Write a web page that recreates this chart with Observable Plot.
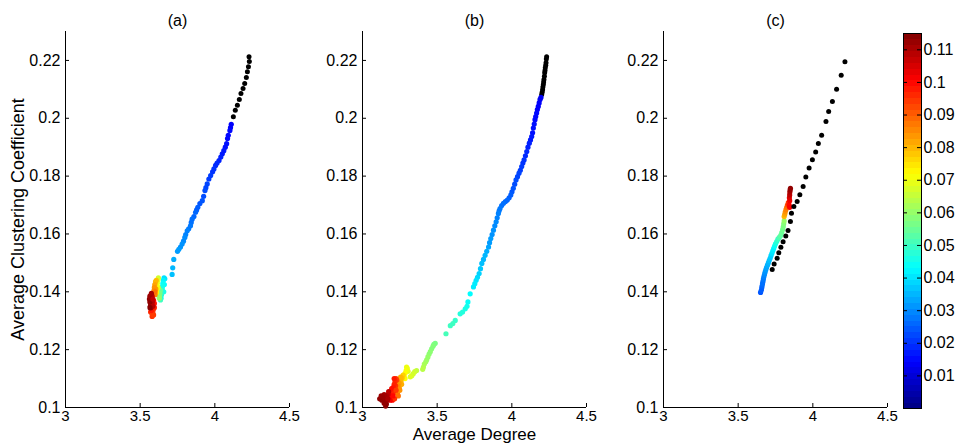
<!DOCTYPE html>
<html><head><meta charset="utf-8">
<script src="https://cdn.jsdelivr.net/npm/d3@7"></script>
<script src="https://cdn.jsdelivr.net/npm/@observablehq/plot@0.6"></script>
<style>
body{margin:0;background:#fff;}
#chart{position:relative;width:959px;height:448px;overflow:hidden;background:#fff;}
#chart svg{position:absolute;top:0;}
</style></head><body><div id="chart"></div>
<script>
// ---------- labels & ticks ----------
const panelTitles = ["(a)", "(b)", "(c)"];
const xLabel = "Average Degree";
const yLabel = "Average Clustering Coefficient";
const xTicks = [3, 3.5, 4, 4.5];
const yTicks = [0.1, 0.12, 0.14, 0.16, 0.18, 0.2, 0.22];
const cbTicks = [0.01, 0.02, 0.03, 0.04, 0.05, 0.06, 0.07, 0.08, 0.09, 0.1, 0.11];
const xDomain = [3, 4.5];
const yDomain = [0.1, 0.23];
const cbDomain = [0, 0.115];

// ---------- panel (a) ----------
const aBlackX = [4.229,4.231,4.225,4.218,4.211,4.200,4.189,4.175,4.164,4.151,4.137,4.124];
const aBlackY = [0.2213,0.2196,0.2178,0.2161,0.2141,0.2120,0.2103,0.2086,0.2065,0.2045,0.2028,0.2005];
const aX = [4.110,4.105,4.101,4.090,4.085,4.079,4.070,4.060,4.050,4.040,4.028,4.015,4.005,3.994,3.985,3.972,3.960,3.949,3.940,3.934,3.925,3.916,3.900,3.886,3.878,3.871,3.860,3.848,3.842,3.837,3.825,3.815,3.805,3.799,3.790,3.781,3.770,3.759,3.750,3.725,3.718,3.714,
  3.665,3.662,3.658,3.660,3.655,3.652,3.650,3.648,3.645,3.643,3.640,3.636,
  3.636,3.632,3.630,3.628,
  3.622,3.620,3.618,3.615,3.612,3.612,3.610,
  3.608,3.605,3.603,3.598,3.595,3.593,3.590,3.600,3.600,
  3.580,3.590,3.595,3.570,3.590,3.588,3.585,3.580,3.575,3.590,3.595,
  3.580,3.575,3.572,3.570,3.568,3.572,3.578,3.582,3.565,3.562,3.565,3.585,3.585,3.575,3.566];
const aY = [0.1979,0.1968,0.1958,0.1941,0.1930,0.1912,0.1900,0.1888,0.1877,0.1866,0.1854,0.1845,0.1837,0.1825,0.1815,0.1802,0.1790,0.1773,0.1760,0.1750,0.1730,0.1715,0.1705,0.1692,0.1683,0.1675,0.1660,0.1651,0.1640,0.1628,0.1618,0.1611,0.1598,0.1588,0.1575,0.1565,0.1555,0.1547,0.1540,0.1512,0.1483,0.1460,
  0.1445,0.1425,0.1400,0.1448,0.1440,0.1430,0.1420,0.1410,0.1400,0.1390,0.1378,0.1372,
  0.1405,0.1395,0.1385,0.1378,
  0.1448,0.1415,0.1440,0.1430,0.1420,0.1408,0.1398,
  0.1440,0.1410,0.1435,0.1425,0.1415,0.1405,0.1395,0.1390,0.1400,
  0.1315,0.1320,0.1345,0.1330,0.1350,0.1340,0.1330,0.1325,0.1335,0.1370,0.1360,
  0.1385,0.1378,0.1370,0.1360,0.1350,0.1345,0.1355,0.1365,0.1365,0.1375,0.1385,0.1375,0.1350,0.1395,0.1345];
const aC = [0.014,0.014,0.015,0.015,0.015,0.016,0.016,0.017,0.017,0.018,0.018,0.019,0.019,0.020,0.020,0.021,0.021,0.022,0.022,0.023,0.023,0.024,0.024,0.025,0.025,0.026,0.026,0.027,0.027,0.028,0.028,0.029,0.029,0.030,0.030,0.031,0.031,0.032,0.032,0.034,0.035,0.036,
  0.041,0.043,0.046,0.040,0.042,0.044,0.045,0.046,0.047,0.048,0.046,0.050,
  0.055,0.057,0.058,0.060,
  0.067,0.069,0.068,0.070,0.071,0.072,0.073,
  0.079,0.083,0.080,0.082,0.084,0.085,0.087,0.086,0.088,
  0.095,0.094,0.097,0.096,0.096,0.097,0.095,0.094,0.098,0.100,0.099,
  0.108,0.110,0.112,0.113,0.114,0.111,0.110,0.109,0.113,0.113,0.112,0.108,0.109,0.111,0.114];

// ---------- panel (b) ----------
const bBlackX = [4.233,4.231,4.229,4.227,4.224,4.222,4.220,4.218,4.215,4.213,4.211,4.208,4.206,4.203,4.200];
const bBlackY = [0.2213,0.2205,0.2192,0.2183,0.2175,0.2165,0.2157,0.2145,0.2134,0.2125,0.2117,0.2108,0.2099,0.2090,0.2082];
const bX = [4.195,4.189,4.183,4.177,4.171,4.166,4.160,4.155,4.150,4.144,4.139,4.133,4.125,4.117,4.108,4.100,4.091,4.082,4.074,4.066,4.057,4.048,4.038,4.028,4.019,4.010,4.001,3.993,3.982,3.970,3.957,3.944,3.932,3.921,3.915,3.910,3.902,3.895,3.886,3.877,3.868,3.859,3.851,3.844,3.832,3.821,3.810,3.799,3.790,3.781,3.770,3.761,3.752,3.743,3.721,3.706,3.700,3.688,3.670,3.654,3.621,3.605,3.588,3.559,
  3.487,3.478,3.472,3.463,3.454,3.446,3.438,3.430,3.424,3.414,3.408,3.403,
  3.362,3.350,3.340,3.330,3.320,
  3.305,3.295,3.300,3.292,3.285,3.285,3.278,
  3.272,3.265,3.258,3.252,3.246,3.240,3.234,3.262,3.255,3.245,3.238,3.250,3.240,
  3.230,3.222,3.225,3.218,3.212,3.206,3.200,3.195,3.190,3.200,3.215,3.185,3.208,3.195,3.212,3.205,3.225,
  3.175,3.170,3.160,3.150,3.140,3.130,3.150,3.160,3.155,3.165,3.145,3.135,3.170,3.145,3.115,3.125];
const bY = [0.2072,0.2065,0.2053,0.2041,0.2030,0.2018,0.2006,0.1995,0.1980,0.1966,0.1950,0.1937,0.1925,0.1914,0.1900,0.1885,0.1870,0.1856,0.1845,0.1833,0.1820,0.1810,0.1798,0.1787,0.1772,0.1758,0.1746,0.1735,0.1725,0.1717,0.1712,0.1706,0.1698,0.1688,0.1680,0.1671,0.1656,0.1642,0.1628,0.1613,0.1598,0.1584,0.1570,0.1555,0.1540,0.1526,0.1512,0.1498,0.1480,0.1463,0.1450,0.1440,0.1428,0.1417,0.1393,0.1365,0.1350,0.1341,0.1330,0.1324,0.1301,0.1290,0.1283,0.1255,
  0.1222,0.1218,0.1212,0.1203,0.1193,0.1185,0.1175,0.1165,0.1158,0.1150,0.1140,0.1132,
  0.1128,0.1124,0.1117,0.1110,0.1106,
  0.1125,0.1140,0.1135,0.1128,0.1118,0.1100,0.1108,
  0.1112,0.1102,0.1090,0.1078,0.1068,0.1058,0.1048,0.1080,0.1105,0.1085,0.1075,0.1060,0.1040,
  0.1095,0.1075,0.1100,0.1090,0.1080,0.1070,0.1058,0.1045,0.1035,0.1025,0.1030,0.1025,0.1055,0.1065,0.1100,0.1040,0.1060,
  0.1055,0.1045,0.1040,0.1035,0.1030,0.1025,0.1020,0.1012,0.1005,0.1025,0.1045,0.1035,0.1030,0.1015,0.1030,0.1040];
const bC = [0.013,0.013,0.014,0.014,0.014,0.015,0.015,0.015,0.016,0.016,0.016,0.017,0.017,0.018,0.018,0.019,0.019,0.020,0.020,0.021,0.021,0.022,0.022,0.023,0.023,0.024,0.024,0.025,0.025,0.026,0.026,0.027,0.027,0.028,0.028,0.029,0.029,0.030,0.030,0.031,0.031,0.032,0.032,0.033,0.034,0.035,0.035,0.036,0.037,0.038,0.039,0.040,0.041,0.041,0.043,0.044,0.045,0.046,0.047,0.047,0.049,0.050,0.050,0.051,
  0.057,0.057,0.058,0.058,0.059,0.059,0.060,0.060,0.061,0.062,0.063,0.064,
  0.065,0.066,0.067,0.067,0.068,
  0.069,0.070,0.070,0.071,0.072,0.072,0.073,
  0.077,0.079,0.080,0.082,0.083,0.085,0.087,0.081,0.080,0.083,0.085,0.084,0.088,
  0.093,0.095,0.094,0.096,0.097,0.098,0.099,0.100,0.101,0.100,0.095,0.102,0.097,0.099,0.098,0.100,0.094,
  0.108,0.108,0.110,0.111,0.112,0.113,0.113,0.114,0.114,0.112,0.111,0.112,0.110,0.113,0.113,0.112];

// ---------- panel (c) ----------
const cBlackX = [4.215,4.190,4.159,4.131,4.106,4.088,4.059,4.037,4.019,3.997,3.975,3.953,3.935,3.913,3.895,3.873,3.857,3.850,3.834,3.819,3.801,3.786,3.772,3.761,3.741,3.728];
const cBlackY = [0.2195,0.2149,0.2100,0.2058,0.2023,0.1989,0.1941,0.1913,0.1883,0.1857,0.1828,0.1797,0.1764,0.1736,0.1712,0.1695,0.1672,0.1643,0.1612,0.1593,0.1573,0.1554,0.1535,0.1516,0.1496,0.1477];
const cX = [3.650,3.655,3.658,3.660,3.663,3.666,3.669,3.672,3.676,3.680,3.685,3.690,3.696,3.702,3.708,3.714,3.720,3.726,3.732,3.738,3.744,3.750,3.758,3.766,3.775,3.785,3.792,3.798,3.802,3.805,3.808,
  3.808,3.812,3.815,3.820,3.825,
  3.830,3.836,3.842,3.845,3.845,3.843,
  3.845,3.846,3.848,3.850];
const cY = [0.1398,0.1405,0.1413,0.1420,0.1428,0.1436,0.1444,0.1452,0.1460,0.1468,0.1476,0.1484,0.1492,0.1500,0.1508,0.1516,0.1525,0.1533,0.1542,0.1550,0.1558,0.1566,0.1574,0.1582,0.1588,0.1595,0.1605,0.1615,0.1625,0.1635,0.1645,
  0.1660,0.1668,0.1676,0.1684,0.1692,
  0.1700,0.1708,0.1700,0.1692,0.1715,0.1725,
  0.1735,0.1745,0.1752,0.1758];
const cC = [0.024,0.025,0.025,0.026,0.027,0.027,0.028,0.029,0.030,0.031,0.032,0.033,0.034,0.035,0.036,0.037,0.038,0.040,0.041,0.042,0.044,0.046,0.048,0.050,0.052,0.054,0.055,0.056,0.057,0.058,0.060,
  0.080,0.082,0.084,0.086,0.088,
  0.092,0.095,0.100,0.101,0.102,0.104,
  0.108,0.110,0.112,0.113];

// ---------- jet colormap ----------
const jetT = [0, 0.125, 0.375, 0.625, 0.875, 1];
const jetColors = ["rgb(0,0,128)", "rgb(0,0,255)", "rgb(0,255,255)", "rgb(255,255,0)", "rgb(255,0,0)", "rgb(128,0,0)"];
const jetScale = d3.scaleLinear().domain(jetT).range(jetColors).interpolate(d3.interpolateRgb).clamp(true);
const jet = (t) => jetScale(t);

const FONT = "'Liberation Sans', Arial, Helvetica, sans-serif";
const chart = document.getElementById("chart");

function makePanel({title, blackX, blackY, x, y, c, blackOnTop, left, showYLabel, showXLabel}) {
  const W = 300, H = 448, mL = 65, mR = 11, mT = 31, mB = 41;
  const plotW = W - mL - mR, plotH = H - mT - mB;
  const blackData = blackX.map((v, i) => ({x: v, y: blackY[i]}));
  const colData = x.map((v, i) => ({x: v, y: y[i], c: c[i]}));
  const blackDots = Plot.dot(blackData, {x: "x", y: "y", r: 2.5, fill: "black"});
  const colDots = Plot.dot(colData, {x: "x", y: "y", r: 2.6, fill: "c"});
  const marks = [
    Plot.ruleX([xDomain[0]], {stroke: "#000", strokeWidth: 1}),
    Plot.ruleY([yDomain[0]], {stroke: "#000", strokeWidth: 1}),
    Plot.tickY(yTicks, {y: d => d, insetRight: plotW - 4, stroke: "#000"}),
    Plot.tickX(xTicks, {x: d => d, insetTop: plotH - 4, stroke: "#000"}),
    Plot.axisY(yTicks, {tickSize: 0, tickPadding: 5, tickFormat: d => String(d), label: null, fontSize: 16}),
    Plot.axisX(xTicks, {tickSize: 0, tickPadding: 3, tickFormat: d => String(d), label: null, fontSize: 15}),
    ...(blackOnTop ? [colDots, blackDots] : [blackDots, colDots]),
    Plot.text([title], {frameAnchor: "top", dy: -17, fontSize: 16})
  ];
  if (showYLabel) marks.push(Plot.text([yLabel], {frameAnchor: "left", dx: -47, rotate: -90, textAnchor: "middle", fontSize: 18}));
  if (showXLabel) marks.push(Plot.text([xLabel], {frameAnchor: "bottom", dy: 32, textAnchor: "middle", fontSize: 17}));
  const svg = Plot.plot({
    width: W, height: H,
    marginLeft: mL, marginRight: mR, marginTop: mT, marginBottom: mB,
    x: {domain: xDomain},
    y: {domain: yDomain},
    color: {type: "linear", domain: cbDomain, interpolate: jet},
    style: {fontSize: "16px", fontFamily: FONT, background: "transparent", overflow: "visible", color: "#000"},
    marks
  });
  svg.style.left = left + "px";
  chart.appendChild(svg);
}

makePanel({title: panelTitles[0], blackX: aBlackX, blackY: aBlackY, x: aX, y: aY, c: aC, blackOnTop: false, left: 0, showYLabel: true});
makePanel({title: panelTitles[1], blackX: bBlackX, blackY: bBlackY, x: bX, y: bY, c: bC, blackOnTop: false, left: 297, showXLabel: true});
makePanel({title: panelTitles[2], blackX: cBlackX, blackY: cBlackY, x: cX, y: cY, c: cC, blackOnTop: true, left: 598});

// ---------- colorbar ----------
(function () {
  const W = 79, H = 448, mL = 23, mR = 38, mT = 33, mB = 40;
  const cbW = W - mL - mR;
  const svg = Plot.plot({
    width: W, height: H,
    marginLeft: mL, marginRight: mR, marginTop: mT, marginBottom: mB,
    x: {domain: [0, 1], axis: null},
    y: {domain: cbDomain},
    color: {type: "linear", domain: cbDomain, interpolate: jet},
    style: {fontSize: "16px", fontFamily: FONT, background: "transparent", overflow: "visible", color: "#000"},
    marks: [
      Plot.raster({x1: 0, x2: 1, y1: cbDomain[0], y2: cbDomain[1], width: 1, height: 64, fill: (x, y) => y, imageRendering: "pixelated"}),
      Plot.frame({stroke: "#000"}),
      Plot.tickY(cbTicks, {y: d => d, insetRight: cbW - 4, stroke: "#000"}),
      Plot.tickY(cbTicks, {y: d => d, insetLeft: cbW - 4, stroke: "#000"}),
      Plot.axisY(cbTicks, {anchor: "right", tickSize: 0, tickPadding: 2, tickFormat: d => String(d), label: null, fontSize: 16})
    ]
  });
  svg.style.left = "880px";
  chart.appendChild(svg);
})();
</script>
</body></html>
